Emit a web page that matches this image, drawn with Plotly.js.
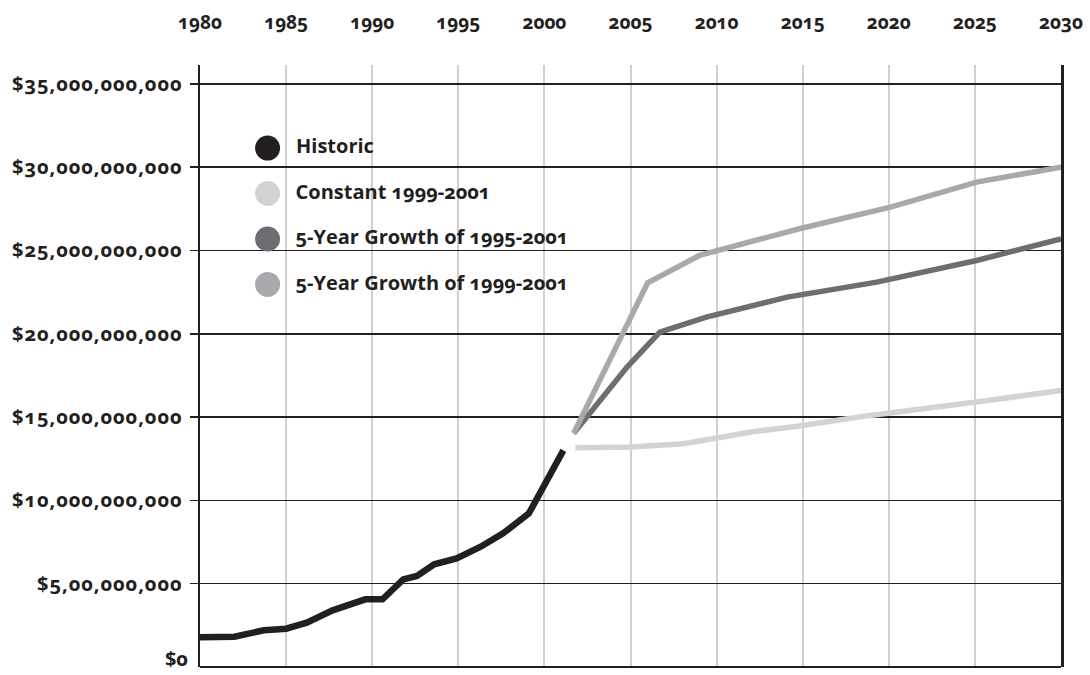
<!DOCTYPE html>
<html>
<head>
<meta charset="utf-8">
<script src="https://cdn.plot.ly/plotly-3.0.1.min.js"></script>
<style>
  html, body { margin: 0; padding: 0; background: #fff; }
  #chart { width: 1090px; height: 675px; }
  .main-svg text { font-feature-settings: "onum" 1 !important; font-variant-numeric: oldstyle-nums !important; }
  .ytick text { letter-spacing: 1px; }
</style>
</head>
<body>
<div id="chart"></div>
<script>
// ---- Data (values in billions of dollars) ----
const historicYears = [1980, 1982, 1983.7, 1985, 1986.2, 1987.7, 1989.6, 1990.6, 1991.8, 1992.6, 1993.6, 1994.9, 1996.3, 1997.6, 1999.1, 1999.5, 2000.3, 2001.1];
const historicValues = [1.78, 1.82, 2.2, 2.3, 2.66, 3.4, 4.06, 4.06, 5.26, 5.46, 6.16, 6.52, 7.22, 8.02, 9.22, 10.0, 11.4, 13.0];

const constantYears = [2001.8, 2005.0, 2008.1, 2012.1, 2014.8, 2018.9, 2025.1, 2030];
const constantValues = [13.16, 13.2, 13.4, 14.12, 14.46, 15.1, 15.9, 16.6];

const growth9501Years = [2001.7, 2004.8, 2006.7, 2009.4, 2014.1, 2019.3, 2025.1, 2030];
const growth9501Values = [14.03, 18.0, 20.1, 21.0, 22.2, 23.1, 24.4, 25.7];

const growth9901Years = [2001.7, 2006.0, 2009.0, 2014.8, 2020.1, 2025.1, 2030];
const growth9901Values = [14.03, 23.06, 24.7, 26.3, 27.6, 29.1, 30.0];

const seriesNames = ["Historic", "Constant 1999-2001", "5-Year Growth of 1995-2001", "5-Year Growth of 1999-2001"];
const seriesColors = ["#231f20", "#d1d3d4", "#6d6e71", "#a7a9ac"];

const xTickVals = [1980, 1985, 1990, 1995, 2000, 2005, 2010, 2015, 2020, 2025, 2030];
const xTickText = ["1980", "1985", "1990", "1995", "2000", "2005", "2010", "2015", "2020", "2025", "2030"];
const yTickVals = [5e9, 10e9, 15e9, 20e9, 25e9, 30e9, 35e9];
const yTickText = ["$5,00,000,000", "$10,000,000,000", "$15,000,000,000", "$20,000,000,000", "$25,000,000,000", "$30,000,000,000", "$35,000,000,000"];
const yZeroLabel = "$0";

// ---- Build traces ----
const B = 1e9;
const toDollars = arr => arr.map(v => v * B);
const seriesX = [historicYears, constantYears, growth9501Years, growth9901Years];
const seriesY = [historicValues, constantValues, growth9501Values, growth9901Values];
const seriesWidth = [6.5, 5.5, 5.5, 5.5];

// draw order: constant, growth 95-01, growth 99-01, historic on top
const order = [1, 2, 3, 0];
const traces = order.map(i => ({
  type: "scatter",
  mode: "lines",
  name: seriesNames[i],
  x: seriesX[i],
  y: toDollars(seriesY[i]),
  line: { color: seriesColors[i], width: seriesWidth[i], shape: "linear" },
  hoverinfo: "skip",
  showlegend: false
}));

// ---- Custom legend (big dots + labels) ----
const FONT = "'Open Sans', Lato, sans-serif";
const legendX = 0.0785, legendTextX = 0.1095;
const legendY0 = 0.862, legendStep = 0.0755;
const shapes = [];
const annotations = [];
seriesNames.forEach((name, i) => {
  const yy = legendY0 - i * legendStep;
  shapes.push({
    type: "circle", xref: "paper", yref: "paper",
    xsizemode: "pixel", ysizemode: "pixel",
    xanchor: legendX, yanchor: yy,
    x0: -12.5, x1: 12.5, y0: -12.5, y1: 12.5,
    fillcolor: seriesColors[i], line: { width: 0 }, layer: "above"
  });
  annotations.push({
    xref: "paper", yref: "paper", x: legendTextX, y: yy + 0.004,
    xanchor: "left", yanchor: "middle", showarrow: false,
    text: name,
    font: { family: FONT, size: 20, color: "#231f20", weight: 700 }
  });
});

// "$0" label at the bottom of the value axis (no tick mark there)
annotations.push({
  xref: "paper", yref: "y", x: 0, y: 0,
  xanchor: "right", yanchor: "bottom", xshift: -10, yshift: -7,
  showarrow: false, text: yZeroLabel,
  font: { family: FONT, size: 20, color: "#231f20", weight: 700 }
});

const layout = {
  width: 1090, height: 675,
  margin: { l: 200, r: 29, t: 65, b: 8 },
  paper_bgcolor: "#ffffff",
  plot_bgcolor: "#ffffff",
  showlegend: false,
  font: { family: FONT, color: "#231f20" },
  xaxis: {
    range: [1980, 2030],
    side: "top",
    tickmode: "array",
    tickvals: xTickVals,
    ticktext: xTickText,
    ticks: "",
    ticklabelstandoff: 31,
    ticklabeloverflow: "allow",
    showgrid: true,
    gridcolor: "#cfd0d2",
    gridwidth: 2,
    showline: false,
    zeroline: false,
    tickfont: { family: FONT, size: 19, color: "#231f20", weight: 700 },
    fixedrange: true
  },
  yaxis: {
    range: [0, 36.13e9],
    tickmode: "array",
    tickvals: yTickVals,
    ticktext: yTickText,
    ticks: "outside",
    ticklen: 8,
    tickwidth: 1.5,
    tickcolor: "#231f20",
    ticklabelstandoff: 3,
    ticklabeloverflow: "allow",
    showgrid: true,
    gridcolor: "#231f20",
    gridwidth: 1.5,
    zeroline: true,
    zerolinecolor: "#231f20",
    zerolinewidth: 2.5,
    showline: true,
    linecolor: "#231f20",
    linewidth: 2.5,
    mirror: true,
    tickfont: { family: FONT, size: 20, color: "#231f20", weight: 700 },
    fixedrange: true
  },
  shapes: shapes,
  annotations: annotations
};

Plotly.newPlot("chart", traces, layout, { displayModeBar: false, staticPlot: true });
</script>
</body>
</html>
